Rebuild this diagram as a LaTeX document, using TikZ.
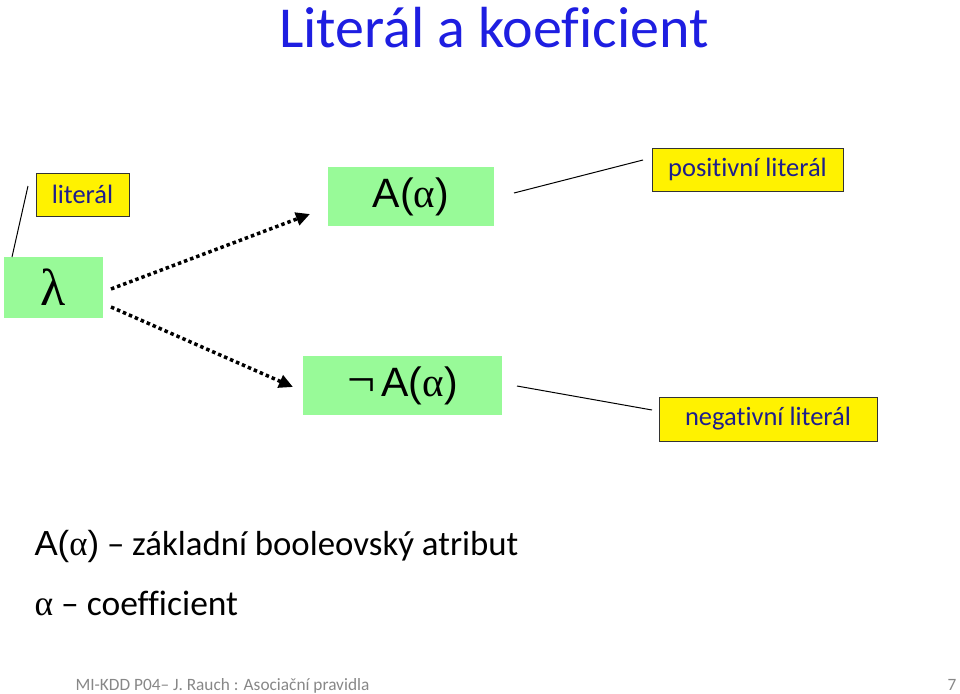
\documentclass[tikz,border=0pt]{standalone}
\usepackage{fontspec}
\setmainfont{Carlito}[Ligatures=NoCommon]
\newfontfamily\arialfont{Liberation Sans}
\newfontfamily\symfont{Liberation Serif}
\usetikzlibrary{arrows.meta,positioning}
\definecolor{titleblue}{RGB}{30,30,225}
\definecolor{navytext}{RGB}{30,30,140}
\definecolor{boxgreen}{RGB}{152,250,152}
\definecolor{footgray}{RGB}{135,135,135}

\begin{document}
\begin{tikzpicture}[
    x=1pt, y=-1pt,
    greenbox/.style={rectangle, fill=boxgreen, inner sep=0pt},
    labelbox/.style={rectangle, draw=black!80, fill=yellow, text=navytext, inner sep=0pt, font=\fontsize{26.5}{30}\selectfont},
    dotarrow/.style={line width=3.5pt, dash pattern=on 3.5pt off 3pt, -{Triangle[length=14pt,width=13pt]}},
    connector/.style={line width=1pt},
]
    \useasboundingbox (0,0) rectangle (960,693);

    % Title
    \node[text=titleblue, font=\fontsize{58}{64}\selectfont] (title) at (494,28) {Literál a koeficient};

    % Lambda and its label
    \node[greenbox, minimum width=99pt, minimum height=61pt, font=\fontsize{52}{56}\symfont] (lambda) at (53.5,287.5) {λ};
    \node[labelbox, minimum width=93pt, minimum height=43pt] (lit) at (82.5,194.5) {literál};
    \coordinate (lamtop) at (12,257);
    \coordinate (litend) at (28,186);
    \draw[connector] (lamtop) -- (litend);

    % Positive and negative literal
    \node[greenbox, minimum width=166pt, minimum height=59pt, font=\fontsize{41}{46}\arialfont] (pos) at (411,196.5) {A(\symfont α\arialfont)};
    \node[greenbox, minimum width=199pt, minimum height=59pt, font=\fontsize{41}{46}\arialfont] (neg) at (402.5,385.5) {{\fontsize{50}{50}\symfont ¬}\hspace{6pt}A(\symfont α\arialfont)};

    \coordinate (up0) at (111,289);
    \coordinate (up1) at (310,214);
    \coordinate (dn0) at (111,307);
    \coordinate (dn1) at (293,387);
    \draw[dotarrow] (up0) -- (up1);
    \draw[dotarrow] (dn0) -- (dn1);

    % Labels on the right
    \node[labelbox, minimum width=191pt, minimum height=43pt] (poslab) at (747.5,169.5) {positivní literál};
    \node[labelbox, minimum width=218pt, minimum height=44pt] (neglab) at (768,419) {negativní literál};
    \coordinate (posfrom) at (514,193);
    \coordinate (posto) at (643,160);
    \coordinate (negfrom) at (517,386);
    \coordinate (negto) at (652,410);
    \draw[connector] (posfrom) -- (posto);
    \draw[connector] (negfrom) -- (negto);

    % Legend
    \node[anchor=base west, font=\fontsize{34.8}{40}\selectfont] (legA) at (31,555) {{\arialfont A(\symfont α\arialfont)} – základní booleovský atribut};
    \node[anchor=base west, font=\fontsize{35.5}{40}\selectfont] (legB) at (31,615) {{\symfont α} – coefficient};

    % Footer
    \node[anchor=base west, text=footgray, font=\fontsize{17.3}{20}\selectfont] (foot) at (72,690) {MI-KDD P04– J. Rauch : Asociační pravidla};
    \node[anchor=base east, text=footgray, font=\fontsize{17.3}{20}\selectfont] (page) at (960,690) {7};
\end{tikzpicture}
\end{document}
